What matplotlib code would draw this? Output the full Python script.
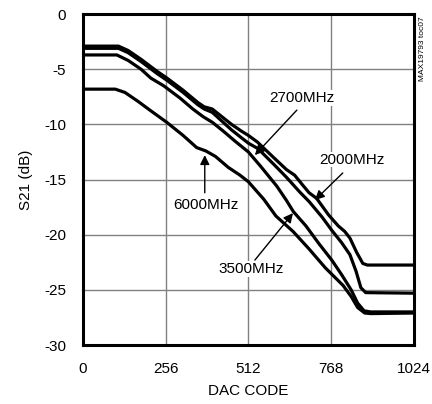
import matplotlib
matplotlib.use("Agg")
import matplotlib.pyplot as plt

plt.rcParams['font.family'] = ['Liberation Sans', 'DejaVu Sans']

# DAC code vs S21 (dB) for each frequency
code_2000 = [0, 110, 140, 180, 230, 260, 310, 355, 375, 400, 430, 460, 490, 512, 540, 590, 630, 655, 680, 700, 723, 760, 790, 810, 826, 847, 866, 880, 1024]
s21_2000 = [-2.9, -2.9, -3.3, -4.1, -5.2, -5.8, -6.9, -8.0, -8.4, -8.6, -9.3, -10.0, -10.6, -11.0, -11.6, -13.0, -14.1, -14.6, -15.5, -16.2, -16.7, -18.2, -19.2, -19.7, -20.3, -21.6, -22.6, -22.75, -22.75]

code_2700 = [0, 110, 140, 180, 230, 260, 310, 355, 375, 400, 430, 460, 490, 512, 542, 590, 630, 670, 700, 740, 770, 800, 826, 845, 860, 875, 1024]
s21_2700 = [-3.1, -3.1, -3.5, -4.3, -5.4, -6.0, -7.1, -8.2, -8.6, -8.9, -9.7, -10.5, -11.2, -11.7, -12.2, -13.6, -14.8, -16.1, -17.0, -18.4, -19.6, -20.7, -21.8, -23.3, -24.8, -25.25, -25.3]

code_3500 = [0, 105, 140, 180, 210, 250, 300, 340, 372, 400, 434, 470, 512, 550, 600, 630, 651, 690, 730, 770, 800, 830, 850, 870, 890, 1024]
s21_3500 = [-3.7, -3.7, -4.2, -5.0, -5.8, -6.5, -7.6, -8.6, -9.3, -9.8, -10.6, -11.5, -12.5, -13.8, -15.6, -16.9, -17.9, -19.2, -20.8, -22.3, -23.6, -25.0, -26.2, -26.9, -27.0, -27.0]

code_6000 = [0, 100, 130, 170, 207, 259, 310, 352, 380, 410, 450, 486, 512, 560, 597, 650, 700, 750, 805, 830, 850, 872, 890, 1024]
s21_6000 = [-6.8, -6.8, -7.1, -7.9, -8.7, -9.8, -11.0, -12.1, -12.4, -12.9, -13.9, -14.6, -15.2, -16.8, -18.3, -19.7, -21.3, -23.0, -24.6, -25.6, -26.6, -27.1, -27.15, -27.1]

x_ticks = [0, 256, 512, 768, 1024]
y_ticks = [0, -5, -10, -15, -20, -25, -30]

fig = plt.figure(figsize=(4.32, 4.04), dpi=100)
ax = fig.add_axes([0.192, 0.146, 0.766, 0.819])

for cx, cy in [(code_2000, s21_2000), (code_2700, s21_2700), (code_3500, s21_3500), (code_6000, s21_6000)]:
    ax.plot(cx, cy, color='black', lw=2.3, solid_joinstyle='round', solid_capstyle='butt')

ax.set_xlim(0, 1024)
ax.set_ylim(-30, 0)
ax.set_xticks(x_ticks)
ax.set_yticks(y_ticks)
ax.set_xticklabels([str(v) for v in x_ticks])
ax.set_yticklabels([str(v) for v in y_ticks])
ax.grid(True, color='#808080', lw=1.0)
ax.set_axisbelow(True)
ax.tick_params(length=0, labelsize=11)
ax.tick_params(axis='x', pad=12)
ax.tick_params(axis='y', pad=12)
for s in ax.spines.values():
    s.set_linewidth(2.2)
ax.set_xlabel('DAC CODE', fontsize=11, labelpad=6)
ax.set_ylabel('S21 (dB)', fontsize=11, labelpad=8)

arrow_kw = dict(arrowstyle='-|>', color='black', lw=1.0, mutation_scale=14, shrinkA=0, shrinkB=0)
labels = [
    ('2700MHz', (677, -7.6), (662, -8.7), (532, -12.78)),
    ('2000MHz', (832, -13.2), (804, -14.4), (718, -16.86)),
    ('6000MHz', (380, -17.3), (377, -16.2), (377, -12.78)),
    ('3500MHz', (520, -23.1), (532, -22.3), (650, -18.04)),
]
for txt, tpos, start, tip in labels:
    ax.text(tpos[0], tpos[1], txt, ha='center', va='center', fontsize=11,
            bbox=dict(facecolor='white', edgecolor='none', pad=0.5))
    ax.annotate('', xy=tip, xytext=start, arrowprops=arrow_kw)

fig.text(0.977, 0.879, 'MAX19793 toc07', rotation=90, ha='center', va='center', fontsize=6)

fig.savefig('out.png', dpi=100)
